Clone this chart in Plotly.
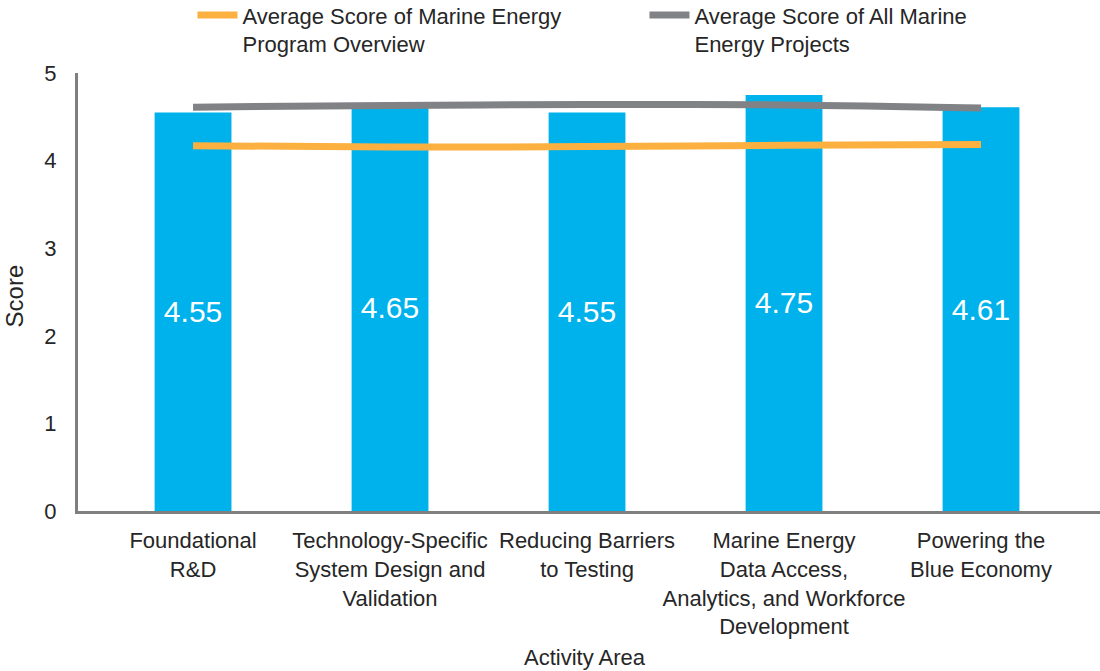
import plotly.graph_objects as go

categories = [
    "Foundational<br>R&D",
    "Technology-Specific<br>System Design and<br>Validation",
    "Reducing Barriers<br>to Testing",
    "Marine Energy<br>Data Access,<br>Analytics, and Workforce<br>Development",
    "Powering the<br>Blue Economy",
]
bar_scores = [4.55, 4.65, 4.55, 4.75, 4.61]
bar_labels = ["4.55", "4.65", "4.55", "4.75", "4.61"]
program_avg = [4.17, 4.155, 4.16, 4.175, 4.185]
all_projects_avg = [4.61, 4.63, 4.64, 4.635, 4.60]
y_ticks = [0, 1, 2, 3, 4, 5]

FONT = "Liberation Sans, Arial, sans-serif"
TXT = "#262626"

fig = go.Figure()
fig.add_trace(go.Bar(
    x=categories, y=bar_scores, text=bar_labels,
    textposition="inside", insidetextanchor="middle",
    textfont=dict(family=FONT, size=30, color="white"),
    marker=dict(color="#00B2EC", line=dict(width=0)),
    width=0.39, showlegend=False, hoverinfo="y",
))
fig.add_trace(go.Scatter(
    x=categories, y=program_avg, mode="lines",
    name="Average Score of Marine Energy<br>Program Overview",
    line=dict(color="#FBB040", width=7, shape="spline"),
))
fig.add_trace(go.Scatter(
    x=categories, y=all_projects_avg, mode="lines",
    name="Average Score of All Marine<br>Energy Projects",
    line=dict(color="#808285", width=7, shape="spline"),
))

fig.update_layout(
    width=1100, height=671,
    margin=dict(l=78, r=0, t=73, b=160, autoexpand=False),
    paper_bgcolor="white", plot_bgcolor="white",
    font=dict(family=FONT, color=TXT, size=22),
    legend=dict(
        orientation="h", x=0.112, xanchor="left",
        y=1.18, yanchor="top",
        font=dict(family=FONT, size=22, color=TXT),
        entrywidth=397, entrywidthmode="pixels",
        valign="top", bgcolor="rgba(0,0,0,0)", itemwidth=40,
        traceorder="normal",
    ),
    xaxis=dict(
        range=[-0.584, 4.604], showgrid=False, zeroline=False,
        showline=True, linecolor="#7F7F7F", linewidth=3,
        ticks="", tickangle=0, tickfont=dict(family=FONT, size=22, color=TXT),
        ticklabelstandoff=8, automargin=False,
    ),
    yaxis=dict(
        range=[0, 5.0], tickvals=y_ticks, showgrid=False, zeroline=False,
        showline=True, linecolor="#7F7F7F", linewidth=3,
        ticks="", tickfont=dict(family=FONT, size=22, color=TXT),
        ticklabelstandoff=14, automargin=False,
    ),
    annotations=[
        dict(text="Score", xref="paper", yref="paper", x=-0.0626, y=0.49,
             xanchor="center", yanchor="middle", textangle=-90, showarrow=False,
             font=dict(family=FONT, size=24, color=TXT)),
        dict(text="Activity Area", xref="paper", yref="paper", x=0.496, y=-0.335,
             xanchor="center", yanchor="middle", showarrow=False,
             font=dict(family=FONT, size=22, color=TXT)),
    ],
)

fig.write_html("out.html")
